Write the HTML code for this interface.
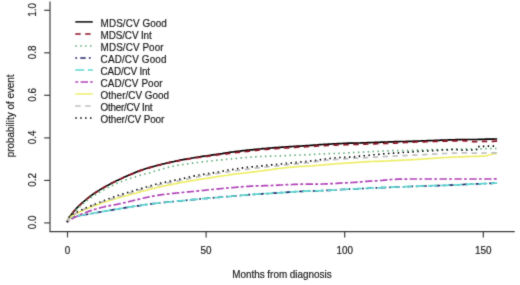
<!DOCTYPE html>
<html><head><meta charset="utf-8"><style>
html,body{margin:0;padding:0;background:#fff;}
svg{display:block;}
text{font-family:"Liberation Sans",sans-serif;font-size:9.9px;fill:#1a1a1a;stroke:#1a1a1a;stroke-width:0.18px;}
</style></head><body>
<svg width="520" height="285" viewBox="0 0 520 285">
<defs><filter id="soft" x="0" y="0" width="520" height="285" filterUnits="userSpaceOnUse"><feConvolveMatrix order="3" kernelMatrix="0.02 0.08 0.02 0.08 0.6 0.08 0.02 0.08 0.02" divisor="1" edgeMode="duplicate"/></filter></defs>
<rect width="520" height="285" fill="#fff"/>
<g filter="url(#soft)">
<path d="M50.0 1.6 V231.6 H514.7" fill="none" stroke="#3a3a3a" stroke-width="1.15"/>
<line x1="44.2" y1="222.9" x2="50" y2="222.9" stroke="#3a3a3a" stroke-width="1.15"/>
<text transform="translate(36.20 222.40) rotate(-90) scale(1 1.04)" text-anchor="middle">0.0</text>
<line x1="44.2" y1="180.4" x2="50" y2="180.4" stroke="#3a3a3a" stroke-width="1.15"/>
<text transform="translate(36.20 179.88) rotate(-90) scale(1 1.04)" text-anchor="middle">0.2</text>
<line x1="44.2" y1="137.9" x2="50" y2="137.9" stroke="#3a3a3a" stroke-width="1.15"/>
<text transform="translate(36.20 137.36) rotate(-90) scale(1 1.04)" text-anchor="middle">0.4</text>
<line x1="44.2" y1="95.3" x2="50" y2="95.3" stroke="#3a3a3a" stroke-width="1.15"/>
<text transform="translate(36.20 94.84) rotate(-90) scale(1 1.04)" text-anchor="middle">0.6</text>
<line x1="44.2" y1="52.8" x2="50" y2="52.8" stroke="#3a3a3a" stroke-width="1.15"/>
<text transform="translate(36.20 52.32) rotate(-90) scale(1 1.04)" text-anchor="middle">0.8</text>
<line x1="44.2" y1="10.3" x2="50" y2="10.3" stroke="#3a3a3a" stroke-width="1.15"/>
<text transform="translate(36.20 9.80) rotate(-90) scale(1 1.04)" text-anchor="middle">1.0</text>
<line x1="67.5" y1="231.6" x2="67.5" y2="237.4" stroke="#3a3a3a" stroke-width="1.15"/>
<text transform="translate(67.50 253.70) scale(1 1.01)" text-anchor="middle">0</text>
<line x1="206.1" y1="231.6" x2="206.1" y2="237.4" stroke="#3a3a3a" stroke-width="1.15"/>
<text transform="translate(206.10 253.70) scale(1 1.01)" text-anchor="middle">50</text>
<line x1="344.7" y1="231.6" x2="344.7" y2="237.4" stroke="#3a3a3a" stroke-width="1.15"/>
<text transform="translate(344.70 253.70) scale(1 1.01)" text-anchor="middle">100</text>
<line x1="483.3" y1="231.6" x2="483.3" y2="237.4" stroke="#3a3a3a" stroke-width="1.15"/>
<text transform="translate(483.30 253.70) scale(1 1.01)" text-anchor="middle">150</text>
<text transform="translate(281.90 277.60) scale(1 1.12)" text-anchor="middle">Months from diagnosis</text>
<text transform="translate(13.60 115.90) rotate(-90) scale(1 1.04)" text-anchor="middle">probability of event</text>
<path d="M67.2 222.2 L67.5 221.4 L67.7 220.7 L68.0 220.1 L68.2 219.6 L68.5 219.1 L68.7 218.6 L69.0 218.1 L69.2 217.7 L69.5 217.3 L69.7 216.9 L70.0 216.5 L70.2 216.1 L70.5 215.7 L70.7 215.4 L71.0 215.0 L71.2 214.7 L71.5 214.3 L71.7 214.0 L72.0 213.7 L72.2 213.4 L72.5 213.1 L72.7 212.8 L73.0 212.5 L73.2 212.2 L73.5 211.9 L73.7 211.6 L74.0 211.3 L74.2 211.0 L74.5 210.7 L74.7 210.4 L75.0 210.1 L75.0 210.1 L76.5 208.4 L78.0 206.9 L79.5 205.4 L81.0 204.0 L82.5 202.6 L84.0 201.3 L85.5 200.1 L87.0 198.8 L88.5 197.6 L90.0 196.5 L91.5 195.4 L93.0 194.3 L94.5 193.3 L96.0 192.3 L97.5 191.3 L99.0 190.4 L100.5 189.4 L102.0 188.6 L103.5 187.7 L105.0 186.8 L106.5 186.0 L108.0 185.2 L109.5 184.4 L111.0 183.6 L112.5 182.8 L114.0 182.1 L115.5 181.3 L117.0 180.6 L118.5 179.9 L120.0 179.2 L121.5 178.5 L123.0 177.8 L124.5 177.1 L126.0 176.4 L127.5 175.8 L129.0 175.1 L130.5 174.5 L132.0 173.9 L133.5 173.2 L135.0 172.6 L136.5 172.0 L138.0 171.4 L139.5 170.9 L141.0 170.3 L142.5 169.8 L144.0 169.3 L145.5 168.8 L147.0 168.3 L148.5 167.9 L150.0 167.4 L151.5 167.0 L153.0 166.6 L154.5 166.2 L156.0 165.8 L157.5 165.4 L159.0 165.0 L160.5 164.6 L162.0 164.2 L163.5 163.8 L165.0 163.5 L166.5 163.1 L168.0 162.8 L169.5 162.4 L171.0 162.1 L172.5 161.8 L174.0 161.5 L175.5 161.1 L177.0 160.8 L178.5 160.5 L180.0 160.2 L181.5 159.9 L183.0 159.7 L184.5 159.4 L186.0 159.1 L187.5 158.8 L189.0 158.5 L190.5 158.3 L192.0 158.0 L193.5 157.8 L195.0 157.5 L196.5 157.3 L198.0 157.1 L199.5 156.8 L201.0 156.6 L202.5 156.4 L204.0 156.2 L205.5 156.0 L207.0 155.8 L208.5 155.5 L210.0 155.3 L211.5 155.1 L213.0 154.9 L214.5 154.7 L216.0 154.5 L217.5 154.2 L219.0 154.0 L220.5 153.8 L222.0 153.6 L223.5 153.3 L225.0 153.1 L226.5 152.9 L228.0 152.7 L229.5 152.4 L231.0 152.2 L232.5 152.0 L234.0 151.8 L235.5 151.6 L237.0 151.4 L238.5 151.3 L240.0 151.1 L241.5 150.9 L243.0 150.7 L244.5 150.6 L246.0 150.4 L247.5 150.2 L249.0 150.1 L250.5 149.9 L252.0 149.8 L253.5 149.6 L255.0 149.4 L256.5 149.3 L258.0 149.1 L259.5 149.0 L261.0 148.9 L262.5 148.7 L264.0 148.6 L265.5 148.5 L267.0 148.3 L268.5 148.2 L270.0 148.1 L271.5 148.0 L273.0 147.8 L274.5 147.7 L276.0 147.6 L277.5 147.5 L279.0 147.4 L280.5 147.3 L282.0 147.2 L283.5 147.1 L285.0 147.0 L286.5 146.9 L288.0 146.8 L289.5 146.7 L291.0 146.6 L292.5 146.5 L294.0 146.4 L295.5 146.3 L297.0 146.2 L298.5 146.2 L300.0 146.1 L301.5 146.0 L303.0 145.9 L304.5 145.8 L306.0 145.7 L307.5 145.6 L309.0 145.5 L310.5 145.4 L312.0 145.3 L313.5 145.2 L315.0 145.1 L316.5 145.0 L318.0 144.8 L319.5 144.7 L321.0 144.6 L322.5 144.5 L324.0 144.4 L325.5 144.3 L327.0 144.3 L328.5 144.2 L330.0 144.1 L331.5 144.0 L333.0 143.9 L334.5 143.9 L336.0 143.8 L337.5 143.7 L339.0 143.6 L340.5 143.6 L342.0 143.5 L343.5 143.4 L345.0 143.4 L346.5 143.3 L348.0 143.2 L349.5 143.2 L351.0 143.1 L352.5 143.1 L354.0 143.1 L355.5 143.1 L357.0 143.1 L358.5 143.0 L360.0 143.0 L361.5 142.9 L363.0 142.9 L364.5 142.8 L366.0 142.8 L367.5 142.7 L369.0 142.6 L370.5 142.6 L372.0 142.5 L373.5 142.5 L375.0 142.4 L376.5 142.4 L378.0 142.3 L379.5 142.3 L381.0 142.2 L382.5 142.1 L384.0 142.1 L385.5 142.0 L387.0 142.0 L388.5 141.9 L390.0 141.9 L391.5 141.8 L393.0 141.8 L394.5 141.7 L396.0 141.7 L397.5 141.6 L399.0 141.6 L400.5 141.5 L402.0 141.5 L403.5 141.5 L405.0 141.5 L406.5 141.4 L408.0 141.4 L409.5 141.4 L411.0 141.3 L412.5 141.3 L414.0 141.2 L415.5 141.2 L417.0 141.1 L418.5 141.1 L420.0 141.0 L421.5 140.9 L423.0 140.9 L424.5 140.8 L426.0 140.8 L427.5 140.7 L429.0 140.7 L430.5 140.6 L432.0 140.5 L433.5 140.5 L435.0 140.4 L436.5 140.4 L438.0 140.3 L439.5 140.3 L441.0 140.2 L442.5 140.1 L444.0 140.1 L445.5 140.0 L447.0 140.0 L448.5 139.9 L450.0 139.9 L451.5 139.8 L453.0 139.8 L454.5 139.8 L456.0 139.7 L457.5 139.7 L459.0 139.6 L460.5 139.6 L462.0 139.5 L463.5 139.5 L465.0 139.5 L466.5 139.5 L468.0 139.5 L469.5 139.5 L471.0 139.5 L472.5 139.5 L474.0 139.5 L475.5 139.5 L477.0 139.5 L478.5 139.4 L480.0 139.4 L481.5 139.3 L483.0 139.3 L484.5 139.3 L486.0 139.2 L487.5 139.2 L489.0 139.2 L490.5 139.1 L492.0 139.1 L493.5 139.1 L495.0 139.0 L496.5 139.0 L497.2 139.0" fill="none" stroke="#000000" stroke-width="1.7" stroke-linejoin="round"/>
<path d="M67.2 222.2 L67.5 221.4 L67.7 220.7 L68.0 220.1 L68.2 219.5 L68.5 219.0 L68.7 218.5 L69.0 218.1 L69.2 217.6 L69.5 217.2 L69.7 216.8 L70.0 216.4 L70.2 216.0 L70.5 215.7 L70.7 215.3 L71.0 215.0 L71.2 214.6 L71.5 214.3 L71.7 214.0 L72.0 213.6 L72.2 213.3 L72.5 213.0 L72.7 212.7 L73.0 212.4 L73.2 212.1 L73.5 211.8 L73.7 211.5 L74.0 211.2 L74.2 210.9 L74.5 210.7 L74.7 210.4 L75.0 210.1 L75.0 210.0 L76.5 208.4 L78.0 206.9 L79.5 205.4 L81.0 204.0 L82.5 202.7 L84.0 201.4 L85.5 200.1 L87.0 198.9 L88.5 197.8 L90.0 196.6 L91.5 195.5 L93.0 194.5 L94.5 193.4 L96.0 192.4 L97.5 191.5 L99.0 190.5 L100.5 189.6 L102.0 188.7 L103.5 187.8 L105.0 186.9 L106.5 186.1 L108.0 185.3 L109.5 184.5 L111.0 183.7 L112.5 182.9 L114.0 182.1 L115.5 181.4 L117.0 180.6 L118.5 179.9 L120.0 179.2 L121.5 178.5 L123.0 177.8 L124.5 177.1 L126.0 176.4 L127.5 175.8 L129.0 175.1 L130.5 174.5 L132.0 173.9 L133.5 173.2 L135.0 172.6 L136.5 172.1 L138.0 171.5 L139.5 170.9 L141.0 170.4 L142.5 169.9 L144.0 169.4 L145.5 168.9 L147.0 168.5 L148.5 168.0 L150.0 167.6 L151.5 167.2 L153.0 166.7 L154.5 166.3 L156.0 165.9 L157.5 165.5 L159.0 165.2 L160.5 164.8 L162.0 164.4 L163.5 164.0 L165.0 163.7 L166.5 163.3 L168.0 163.0 L169.5 162.7 L171.0 162.3 L172.5 162.0 L174.0 161.7 L175.5 161.4 L177.0 161.1 L178.5 160.8 L180.0 160.5 L181.5 160.2 L183.0 159.9 L184.5 159.7 L186.0 159.4 L187.5 159.2 L189.0 158.9 L190.5 158.7 L192.0 158.4 L193.5 158.2 L195.0 157.9 L196.5 157.7 L198.0 157.5 L199.5 157.3 L201.0 157.1 L202.5 156.9 L204.0 156.7 L205.5 156.5 L207.0 156.3 L208.5 156.1 L210.0 155.9 L211.5 155.7 L213.0 155.5 L214.5 155.3 L216.0 155.1 L217.5 154.9 L219.0 154.7 L220.5 154.5 L222.0 154.3 L223.5 154.1 L225.0 153.9 L226.5 153.8 L228.0 153.6 L229.5 153.4 L231.0 153.2 L232.5 153.0 L234.0 152.8 L235.5 152.6 L237.0 152.5 L238.5 152.3 L240.0 152.1 L241.5 152.0 L243.0 151.8 L244.5 151.7 L246.0 151.5 L247.5 151.4 L249.0 151.2 L250.5 151.0 L252.0 150.9 L253.5 150.7 L255.0 150.5 L256.5 150.3 L258.0 150.1 L259.5 149.9 L261.0 149.8 L262.5 149.6 L264.0 149.5 L265.5 149.4 L267.0 149.3 L268.5 149.2 L270.0 149.0 L271.5 148.9 L273.0 148.8 L274.5 148.7 L276.0 148.6 L277.5 148.5 L279.0 148.4 L280.5 148.3 L282.0 148.2 L283.5 148.1 L285.0 148.0 L286.5 147.9 L288.0 147.8 L289.5 147.7 L291.0 147.6 L292.5 147.5 L294.0 147.4 L295.5 147.3 L297.0 147.2 L298.5 147.1 L300.0 147.1 L301.5 147.0 L303.0 146.9 L304.5 146.8 L306.0 146.7 L307.5 146.6 L309.0 146.5 L310.5 146.5 L312.0 146.4 L313.5 146.3 L315.0 146.2 L316.5 146.1 L318.0 146.0 L319.5 145.9 L321.0 145.8 L322.5 145.8 L324.0 145.7 L325.5 145.6 L327.0 145.5 L328.5 145.5 L330.0 145.4 L331.5 145.3 L333.0 145.2 L334.5 145.2 L336.0 145.1 L337.5 145.0 L339.0 145.0 L340.5 144.9 L342.0 144.8 L343.5 144.8 L345.0 144.7 L346.5 144.7 L348.0 144.6 L349.5 144.5 L351.0 144.5 L352.5 144.5 L354.0 144.4 L355.5 144.4 L357.0 144.4 L358.5 144.3 L360.0 144.3 L361.5 144.2 L363.0 144.2 L364.5 144.1 L366.0 144.1 L367.5 144.0 L369.0 144.0 L370.5 143.9 L372.0 143.9 L373.5 143.8 L375.0 143.8 L376.5 143.7 L378.0 143.7 L379.5 143.6 L381.0 143.6 L382.5 143.5 L384.0 143.5 L385.5 143.4 L387.0 143.4 L388.5 143.3 L390.0 143.3 L391.5 143.2 L393.0 143.2 L394.5 143.1 L396.0 143.1 L397.5 143.0 L399.0 143.0 L400.5 142.9 L402.0 142.8 L403.5 142.7 L405.0 142.5 L406.5 142.4 L408.0 142.3 L409.5 142.2 L411.0 142.2 L412.5 142.1 L414.0 142.1 L415.5 142.0 L417.0 142.0 L418.5 141.9 L420.0 141.9 L421.5 141.9 L423.0 141.8 L424.5 141.8 L426.0 141.7 L427.5 141.7 L429.0 141.6 L430.5 141.6 L432.0 141.5 L433.5 141.5 L435.0 141.4 L436.5 141.4 L438.0 141.3 L439.5 141.3 L441.0 141.2 L442.5 141.2 L444.0 141.2 L445.5 141.1 L447.0 141.1 L448.5 141.0 L450.0 141.0 L451.5 141.0 L453.0 140.9 L454.5 140.9 L456.0 140.8 L457.5 140.8 L459.0 140.8 L460.5 140.7 L462.0 140.7 L463.5 140.7 L465.0 140.8 L466.5 140.9 L468.0 141.1 L469.5 141.4 L471.0 141.5 L472.5 141.6 L474.0 141.6 L475.5 141.6 L477.0 141.6 L478.5 141.6 L480.0 141.5 L481.5 141.5 L483.0 141.5 L484.5 141.4 L486.0 141.4 L487.5 141.4 L489.0 141.4 L490.5 141.3 L492.0 141.3 L493.5 141.3 L495.0 141.2 L496.5 141.2 L497.2 141.2" fill="none" stroke="#8a1528" stroke-width="1.7" stroke-linejoin="round" stroke-dasharray="5.4 4.5"/>
<path d="M67.2 222.2 L67.5 221.5 L67.7 220.9 L68.0 220.4 L68.2 219.9 L68.5 219.4 L68.7 219.0 L69.0 218.6 L69.2 218.2 L69.5 217.8 L69.7 217.4 L70.0 217.1 L70.2 216.7 L70.5 216.4 L70.7 216.1 L71.0 215.7 L71.2 215.4 L71.5 215.1 L71.7 214.8 L72.0 214.5 L72.2 214.2 L72.5 214.0 L72.7 213.7 L73.0 213.4 L73.2 213.1 L73.5 212.8 L73.7 212.6 L74.0 212.3 L74.2 212.0 L74.5 211.8 L74.7 211.5 L75.0 211.2 L75.0 211.2 L76.5 209.7 L78.0 208.2 L79.5 206.8 L81.0 205.4 L82.5 204.1 L84.0 202.9 L85.5 201.7 L87.0 200.5 L88.5 199.4 L90.0 198.3 L91.5 197.3 L93.0 196.3 L94.5 195.3 L96.0 194.3 L97.5 193.4 L99.0 192.5 L100.5 191.6 L102.0 190.8 L103.5 190.0 L105.0 189.1 L106.5 188.3 L108.0 187.6 L109.5 186.8 L111.0 186.1 L112.5 185.4 L114.0 184.7 L115.5 184.0 L117.0 183.3 L118.5 182.7 L120.0 182.1 L121.5 181.5 L123.0 180.9 L124.5 180.3 L126.0 179.8 L127.5 179.3 L129.0 178.8 L130.5 178.3 L132.0 177.8 L133.5 177.3 L135.0 176.9 L136.5 176.4 L138.0 176.0 L139.5 175.5 L141.0 175.1 L142.5 174.7 L144.0 174.3 L145.5 173.8 L147.0 173.4 L148.5 173.0 L150.0 172.6 L151.5 172.1 L153.0 171.7 L154.5 171.2 L156.0 170.8 L157.5 170.3 L159.0 169.9 L160.5 169.4 L162.0 169.0 L163.5 168.6 L165.0 168.2 L166.5 167.8 L168.0 167.4 L169.5 167.0 L171.0 166.7 L172.5 166.3 L174.0 166.0 L175.5 165.7 L177.0 165.5 L178.5 165.2 L180.0 165.0 L181.5 164.7 L183.0 164.5 L184.5 164.3 L186.0 164.0 L187.5 163.8 L189.0 163.6 L190.5 163.4 L192.0 163.2 L193.5 163.1 L195.0 162.9 L196.5 162.7 L198.0 162.5 L199.5 162.3 L201.0 162.1 L202.5 161.9 L204.0 161.7 L205.5 161.6 L207.0 161.4 L208.5 161.2 L210.0 161.1 L211.5 160.9 L213.0 160.7 L214.5 160.6 L216.0 160.4 L217.5 160.2 L219.0 160.1 L220.5 159.9 L222.0 159.8 L223.5 159.6 L225.0 159.5 L226.5 159.3 L228.0 159.2 L229.5 159.0 L231.0 158.9 L232.5 158.7 L234.0 158.6 L235.5 158.4 L237.0 158.3 L238.5 158.1 L240.0 158.0 L241.5 157.9 L243.0 157.7 L244.5 157.6 L246.0 157.5 L247.5 157.4 L249.0 157.2 L250.5 157.1 L252.0 157.0 L253.5 156.9 L255.0 156.8 L256.5 156.7 L258.0 156.6 L259.5 156.5 L261.0 156.5 L262.5 156.4 L264.0 156.3 L265.5 156.3 L267.0 156.3 L268.5 156.2 L270.0 156.2 L271.5 156.1 L273.0 156.1 L274.5 156.0 L276.0 156.0 L277.5 155.9 L279.0 155.8 L280.5 155.8 L282.0 155.7 L283.5 155.7 L285.0 155.6 L286.5 155.5 L288.0 155.5 L289.5 155.4 L291.0 155.4 L292.5 155.3 L294.0 155.3 L295.5 155.2 L297.0 155.1 L298.5 155.1 L300.0 155.0 L301.5 155.0 L303.0 154.9 L304.5 154.8 L306.0 154.8 L307.5 154.7 L309.0 154.6 L310.5 154.6 L312.0 154.5 L313.5 154.4 L315.0 154.3 L316.5 154.2 L318.0 154.1 L319.5 154.0 L321.0 153.9 L322.5 153.9 L324.0 153.8 L325.5 153.8 L327.0 153.7 L328.5 153.7 L330.0 153.6 L331.5 153.6 L333.0 153.5 L334.5 153.5 L336.0 153.4 L337.5 153.4 L339.0 153.3 L340.5 153.3 L342.0 153.2 L343.5 153.1 L345.0 153.0 L346.5 152.9 L348.0 152.9 L349.5 152.8 L351.0 152.7 L352.5 152.6 L354.0 152.5 L355.5 152.5 L357.0 152.4 L358.5 152.3 L360.0 152.3 L361.5 152.2 L363.0 152.1 L364.5 152.1 L366.0 152.0 L367.5 151.9 L369.0 151.8 L370.5 151.7 L372.0 151.6 L373.5 151.5 L375.0 151.4 L376.5 151.4 L378.0 151.3 L379.5 151.2 L381.0 151.1 L382.5 151.1 L384.0 151.0 L385.5 151.0 L387.0 150.9 L388.5 150.9 L390.0 150.8 L391.5 150.8 L393.0 150.7 L394.5 150.7 L396.0 150.6 L397.5 150.6 L399.0 150.6 L400.5 150.5 L402.0 150.5 L403.5 150.5 L405.0 150.5 L406.5 150.5 L408.0 150.4 L409.5 150.4 L411.0 150.4 L412.5 150.3 L414.0 150.3 L415.5 150.3 L417.0 150.2 L418.5 150.2 L420.0 150.1 L421.5 150.1 L423.0 150.0 L424.5 150.0 L426.0 149.9 L427.5 149.9 L429.0 149.8 L430.5 149.8 L432.0 149.7 L433.5 149.7 L435.0 149.7 L436.5 149.6 L438.0 149.6 L439.5 149.5 L441.0 149.5 L442.5 149.4 L444.0 149.4 L445.5 149.4 L447.0 149.3 L448.5 149.3 L450.0 149.2 L451.5 149.2 L453.0 149.2 L454.5 149.1 L456.0 149.1 L457.5 149.1 L459.0 149.0 L460.5 149.0 L462.0 149.0 L463.5 148.9 L465.0 148.9 L466.5 148.9 L468.0 149.0 L469.5 149.0 L471.0 149.0 L472.5 149.0 L474.0 149.0 L475.5 149.0 L477.0 149.0 L478.5 148.9 L480.0 148.9 L481.5 148.9 L483.0 148.8 L484.5 148.8 L486.0 148.7 L487.5 148.7 L489.0 148.7 L490.5 148.6 L492.0 148.6 L493.5 148.6 L495.0 148.5 L496.5 148.5 L497.2 148.5" fill="none" stroke="#62ad7c" stroke-width="1.7" stroke-linejoin="round" stroke-dasharray="1.5 3.4"/>
<path d="M67.2 222.2 L67.5 221.5 L67.7 220.9 L68.0 220.4 L68.2 219.9 L68.5 219.5 L68.7 219.2 L69.0 218.9 L69.2 218.7 L69.5 218.4 L69.7 218.3 L70.0 218.1 L70.2 217.9 L70.5 217.8 L70.7 217.7 L71.0 217.6 L71.2 217.5 L71.5 217.4 L71.7 217.3 L72.0 217.2 L72.2 217.1 L72.5 217.1 L72.7 217.0 L73.0 216.9 L73.2 216.9 L73.5 216.8 L73.7 216.8 L74.0 216.7 L74.2 216.6 L74.5 216.6 L74.7 216.5 L75.0 216.5 L75.0 216.5 L76.5 216.2 L78.0 215.9 L79.5 215.6 L81.0 215.3 L82.5 215.1 L84.0 214.8 L85.5 214.5 L87.0 214.3 L88.5 214.0 L90.0 213.8 L91.5 213.5 L93.0 213.3 L94.5 213.0 L96.0 212.7 L97.5 212.5 L99.0 212.2 L100.5 212.0 L102.0 211.7 L103.5 211.4 L105.0 211.2 L106.5 210.9 L108.0 210.7 L109.5 210.4 L111.0 210.1 L112.5 209.9 L114.0 209.6 L115.5 209.3 L117.0 209.1 L118.5 208.8 L120.0 208.6 L121.5 208.3 L123.0 208.1 L124.5 207.8 L126.0 207.6 L127.5 207.4 L129.0 207.1 L130.5 206.9 L132.0 206.7 L133.5 206.4 L135.0 206.2 L136.5 206.0 L138.0 205.8 L139.5 205.6 L141.0 205.3 L142.5 205.1 L144.0 204.9 L145.5 204.7 L147.0 204.5 L148.5 204.3 L150.0 204.1 L151.5 203.9 L153.0 203.7 L154.5 203.5 L156.0 203.3 L157.5 203.1 L159.0 203.0 L160.5 202.8 L162.0 202.6 L163.5 202.5 L165.0 202.3 L166.5 202.2 L168.0 202.0 L169.5 201.9 L171.0 201.8 L172.5 201.6 L174.0 201.5 L175.5 201.3 L177.0 201.2 L178.5 201.1 L180.0 200.9 L181.5 200.8 L183.0 200.6 L184.5 200.5 L186.0 200.3 L187.5 200.2 L189.0 200.0 L190.5 199.9 L192.0 199.7 L193.5 199.6 L195.0 199.5 L196.5 199.3 L198.0 199.2 L199.5 199.0 L201.0 198.9 L202.5 198.7 L204.0 198.6 L205.5 198.5 L207.0 198.3 L208.5 198.2 L210.0 198.1 L211.5 198.0 L213.0 197.8 L214.5 197.7 L216.0 197.6 L217.5 197.5 L219.0 197.3 L220.5 197.2 L222.0 197.1 L223.5 197.0 L225.0 196.8 L226.5 196.7 L228.0 196.6 L229.5 196.5 L231.0 196.3 L232.5 196.2 L234.0 196.0 L235.5 195.9 L237.0 195.7 L238.5 195.6 L240.0 195.5 L241.5 195.3 L243.0 195.2 L244.5 195.1 L246.0 194.9 L247.5 194.8 L249.0 194.7 L250.5 194.6 L252.0 194.5 L253.5 194.4 L255.0 194.3 L256.5 194.2 L258.0 194.1 L259.5 194.0 L261.0 193.9 L262.5 193.8 L264.0 193.7 L265.5 193.6 L267.0 193.6 L268.5 193.5 L270.0 193.4 L271.5 193.3 L273.0 193.2 L274.5 193.1 L276.0 193.0 L277.5 192.9 L279.0 192.8 L280.5 192.7 L282.0 192.6 L283.5 192.5 L285.0 192.4 L286.5 192.3 L288.0 192.2 L289.5 192.1 L291.0 192.0 L292.5 191.9 L294.0 191.8 L295.5 191.7 L297.0 191.6 L298.5 191.5 L300.0 191.5 L301.5 191.4 L303.0 191.3 L304.5 191.2 L306.0 191.2 L307.5 191.1 L309.0 191.1 L310.5 191.0 L312.0 191.0 L313.5 191.0 L315.0 190.9 L316.5 190.9 L318.0 190.8 L319.5 190.8 L321.0 190.7 L322.5 190.7 L324.0 190.6 L325.5 190.5 L327.0 190.4 L328.5 190.4 L330.0 190.3 L331.5 190.2 L333.0 190.1 L334.5 190.0 L336.0 189.9 L337.5 189.8 L339.0 189.7 L340.5 189.6 L342.0 189.5 L343.5 189.4 L345.0 189.3 L346.5 189.3 L348.0 189.2 L349.5 189.1 L351.0 189.0 L352.5 189.0 L354.0 188.9 L355.5 188.8 L357.0 188.8 L358.5 188.7 L360.0 188.6 L361.5 188.6 L363.0 188.5 L364.5 188.4 L366.0 188.4 L367.5 188.3 L369.0 188.2 L370.5 188.2 L372.0 188.1 L373.5 188.0 L375.0 188.0 L376.5 187.9 L378.0 187.8 L379.5 187.8 L381.0 187.7 L382.5 187.6 L384.0 187.6 L385.5 187.5 L387.0 187.4 L388.5 187.4 L390.0 187.3 L391.5 187.2 L393.0 187.2 L394.5 187.1 L396.0 187.1 L397.5 187.0 L399.0 186.9 L400.5 186.9 L402.0 186.8 L403.5 186.8 L405.0 186.7 L406.5 186.6 L408.0 186.6 L409.5 186.5 L411.0 186.5 L412.5 186.4 L414.0 186.4 L415.5 186.3 L417.0 186.3 L418.5 186.2 L420.0 186.2 L421.5 186.1 L423.0 186.1 L424.5 186.0 L426.0 186.0 L427.5 185.9 L429.0 185.8 L430.5 185.8 L432.0 185.7 L433.5 185.7 L435.0 185.7 L436.5 185.6 L438.0 185.6 L439.5 185.5 L441.0 185.5 L442.5 185.4 L444.0 185.4 L445.5 185.3 L447.0 185.3 L448.5 185.2 L450.0 185.2 L451.5 185.1 L453.0 185.0 L454.5 185.0 L456.0 184.9 L457.5 184.8 L459.0 184.8 L460.5 184.7 L462.0 184.6 L463.5 184.5 L465.0 184.4 L466.5 184.4 L468.0 184.3 L469.5 184.2 L471.0 184.2 L472.5 184.1 L474.0 184.0 L475.5 184.0 L477.0 183.9 L478.5 183.8 L480.0 183.8 L481.5 183.7 L483.0 183.7 L484.5 183.6 L486.0 183.5 L487.5 183.5 L489.0 183.4 L490.5 183.3 L492.0 183.3 L493.5 183.2 L495.0 183.2 L496.5 183.1 L497.2 183.1" fill="none" stroke="#22266e" stroke-width="1.7" stroke-linejoin="round" stroke-dasharray="1.8 3.2 5.4 3.2"/>
<path d="M67.2 222.2 L67.5 221.5 L67.7 220.9 L68.0 220.4 L68.2 219.9 L68.5 219.5 L68.7 219.2 L69.0 218.9 L69.2 218.7 L69.5 218.4 L69.7 218.3 L70.0 218.1 L70.2 217.9 L70.5 217.8 L70.7 217.7 L71.0 217.6 L71.2 217.5 L71.5 217.4 L71.7 217.3 L72.0 217.2 L72.2 217.1 L72.5 217.1 L72.7 217.0 L73.0 216.9 L73.2 216.9 L73.5 216.8 L73.7 216.8 L74.0 216.7 L74.2 216.6 L74.5 216.6 L74.7 216.5 L75.0 216.5 L75.0 216.5 L76.5 216.2 L78.0 215.9 L79.5 215.6 L81.0 215.3 L82.5 215.1 L84.0 214.8 L85.5 214.5 L87.0 214.3 L88.5 214.0 L90.0 213.8 L91.5 213.5 L93.0 213.3 L94.5 213.0 L96.0 212.7 L97.5 212.5 L99.0 212.2 L100.5 212.0 L102.0 211.7 L103.5 211.4 L105.0 211.2 L106.5 210.9 L108.0 210.7 L109.5 210.4 L111.0 210.1 L112.5 209.9 L114.0 209.6 L115.5 209.3 L117.0 209.1 L118.5 208.8 L120.0 208.6 L121.5 208.3 L123.0 208.1 L124.5 207.8 L126.0 207.6 L127.5 207.4 L129.0 207.1 L130.5 206.9 L132.0 206.7 L133.5 206.4 L135.0 206.2 L136.5 206.0 L138.0 205.8 L139.5 205.6 L141.0 205.3 L142.5 205.1 L144.0 204.9 L145.5 204.7 L147.0 204.5 L148.5 204.3 L150.0 204.1 L151.5 203.9 L153.0 203.7 L154.5 203.5 L156.0 203.3 L157.5 203.1 L159.0 203.0 L160.5 202.8 L162.0 202.6 L163.5 202.5 L165.0 202.3 L166.5 202.2 L168.0 202.0 L169.5 201.9 L171.0 201.8 L172.5 201.6 L174.0 201.5 L175.5 201.3 L177.0 201.2 L178.5 201.1 L180.0 200.9 L181.5 200.8 L183.0 200.6 L184.5 200.5 L186.0 200.3 L187.5 200.2 L189.0 200.0 L190.5 199.9 L192.0 199.7 L193.5 199.6 L195.0 199.5 L196.5 199.3 L198.0 199.2 L199.5 199.0 L201.0 198.9 L202.5 198.7 L204.0 198.6 L205.5 198.5 L207.0 198.3 L208.5 198.2 L210.0 198.1 L211.5 198.0 L213.0 197.8 L214.5 197.7 L216.0 197.6 L217.5 197.5 L219.0 197.3 L220.5 197.2 L222.0 197.1 L223.5 197.0 L225.0 196.8 L226.5 196.7 L228.0 196.6 L229.5 196.5 L231.0 196.3 L232.5 196.2 L234.0 196.0 L235.5 195.9 L237.0 195.7 L238.5 195.6 L240.0 195.5 L241.5 195.3 L243.0 195.2 L244.5 195.1 L246.0 194.9 L247.5 194.8 L249.0 194.7 L250.5 194.6 L252.0 194.5 L253.5 194.4 L255.0 194.3 L256.5 194.2 L258.0 194.1 L259.5 194.0 L261.0 193.9 L262.5 193.8 L264.0 193.7 L265.5 193.6 L267.0 193.6 L268.5 193.5 L270.0 193.4 L271.5 193.3 L273.0 193.2 L274.5 193.1 L276.0 193.0 L277.5 192.9 L279.0 192.8 L280.5 192.7 L282.0 192.6 L283.5 192.5 L285.0 192.4 L286.5 192.3 L288.0 192.2 L289.5 192.1 L291.0 192.0 L292.5 191.9 L294.0 191.8 L295.5 191.7 L297.0 191.6 L298.5 191.5 L300.0 191.5 L301.5 191.4 L303.0 191.3 L304.5 191.2 L306.0 191.2 L307.5 191.1 L309.0 191.1 L310.5 191.0 L312.0 191.0 L313.5 191.0 L315.0 190.9 L316.5 190.9 L318.0 190.8 L319.5 190.8 L321.0 190.7 L322.5 190.7 L324.0 190.6 L325.5 190.5 L327.0 190.4 L328.5 190.4 L330.0 190.3 L331.5 190.2 L333.0 190.1 L334.5 190.0 L336.0 189.9 L337.5 189.8 L339.0 189.7 L340.5 189.6 L342.0 189.5 L343.5 189.4 L345.0 189.3 L346.5 189.3 L348.0 189.2 L349.5 189.1 L351.0 189.0 L352.5 189.0 L354.0 188.9 L355.5 188.8 L357.0 188.8 L358.5 188.7 L360.0 188.6 L361.5 188.6 L363.0 188.5 L364.5 188.4 L366.0 188.4 L367.5 188.3 L369.0 188.2 L370.5 188.2 L372.0 188.1 L373.5 188.0 L375.0 188.0 L376.5 187.9 L378.0 187.8 L379.5 187.8 L381.0 187.7 L382.5 187.6 L384.0 187.6 L385.5 187.5 L387.0 187.4 L388.5 187.4 L390.0 187.3 L391.5 187.2 L393.0 187.2 L394.5 187.1 L396.0 187.1 L397.5 187.0 L399.0 186.9 L400.5 186.9 L402.0 186.8 L403.5 186.8 L405.0 186.7 L406.5 186.6 L408.0 186.6 L409.5 186.5 L411.0 186.5 L412.5 186.4 L414.0 186.4 L415.5 186.3 L417.0 186.3 L418.5 186.2 L420.0 186.2 L421.5 186.1 L423.0 186.1 L424.5 186.0 L426.0 186.0 L427.5 185.9 L429.0 185.8 L430.5 185.8 L432.0 185.7 L433.5 185.7 L435.0 185.7 L436.5 185.6 L438.0 185.6 L439.5 185.5 L441.0 185.5 L442.5 185.4 L444.0 185.4 L445.5 185.3 L447.0 185.3 L448.5 185.2 L450.0 185.2 L451.5 185.1 L453.0 185.0 L454.5 185.0 L456.0 184.9 L457.5 184.8 L459.0 184.8 L460.5 184.7 L462.0 184.6 L463.5 184.5 L465.0 184.4 L466.5 184.4 L468.0 184.3 L469.5 184.2 L471.0 184.2 L472.5 184.1 L474.0 184.0 L475.5 184.0 L477.0 183.9 L478.5 183.8 L480.0 183.8 L481.5 183.7 L483.0 183.7 L484.5 183.6 L486.0 183.5 L487.5 183.5 L489.0 183.4 L490.5 183.3 L492.0 183.3 L493.5 183.2 L495.0 183.2 L496.5 183.1 L497.2 183.1" fill="none" stroke="#5cd6d0" stroke-width="1.7" stroke-linejoin="round" stroke-dasharray="9.0 3.6"/>
<path d="M67.2 222.2 L67.5 221.9 L67.7 221.6 L68.0 221.4 L68.2 221.2 L68.5 221.0 L68.7 220.8 L69.0 220.6 L69.2 220.4 L69.5 220.3 L69.7 220.1 L70.0 219.9 L70.2 219.8 L70.5 219.6 L70.7 219.5 L71.0 219.3 L71.2 219.2 L71.5 219.0 L71.7 218.9 L72.0 218.8 L72.2 218.6 L72.5 218.5 L72.7 218.4 L73.0 218.2 L73.2 218.1 L73.5 218.0 L73.7 217.8 L74.0 217.7 L74.2 217.6 L74.5 217.4 L74.7 217.3 L75.0 217.2 L75.0 217.2 L76.5 216.4 L78.0 215.7 L79.5 215.0 L81.0 214.4 L82.5 213.8 L84.0 213.1 L85.5 212.6 L87.0 212.0 L88.5 211.4 L90.0 210.9 L91.5 210.4 L93.0 209.9 L94.5 209.4 L96.0 209.0 L97.5 208.5 L99.0 208.1 L100.5 207.7 L102.0 207.3 L103.5 207.0 L105.0 206.6 L106.5 206.3 L108.0 206.0 L109.5 205.7 L111.0 205.4 L112.5 205.1 L114.0 204.8 L115.5 204.6 L117.0 204.3 L118.5 204.0 L120.0 203.7 L121.5 203.4 L123.0 203.0 L124.5 202.7 L126.0 202.3 L127.5 202.0 L129.0 201.6 L130.5 201.2 L132.0 200.9 L133.5 200.5 L135.0 200.1 L136.5 199.8 L138.0 199.4 L139.5 199.1 L141.0 198.7 L142.5 198.3 L144.0 198.0 L145.5 197.7 L147.0 197.3 L148.5 197.0 L150.0 196.7 L151.5 196.4 L153.0 196.1 L154.5 195.9 L156.0 195.6 L157.5 195.4 L159.0 195.1 L160.5 194.9 L162.0 194.7 L163.5 194.5 L165.0 194.3 L166.5 194.1 L168.0 194.0 L169.5 193.8 L171.0 193.6 L172.5 193.4 L174.0 193.3 L175.5 193.1 L177.0 193.0 L178.5 192.8 L180.0 192.7 L181.5 192.5 L183.0 192.4 L184.5 192.2 L186.0 192.1 L187.5 191.9 L189.0 191.8 L190.5 191.7 L192.0 191.5 L193.5 191.4 L195.0 191.2 L196.5 191.1 L198.0 190.9 L199.5 190.8 L201.0 190.6 L202.5 190.5 L204.0 190.3 L205.5 190.2 L207.0 190.0 L208.5 189.8 L210.0 189.7 L211.5 189.5 L213.0 189.4 L214.5 189.2 L216.0 189.1 L217.5 188.9 L219.0 188.8 L220.5 188.7 L222.0 188.5 L223.5 188.4 L225.0 188.3 L226.5 188.1 L228.0 188.0 L229.5 187.9 L231.0 187.7 L232.5 187.6 L234.0 187.5 L235.5 187.3 L237.0 187.2 L238.5 187.1 L240.0 186.9 L241.5 186.8 L243.0 186.7 L244.5 186.6 L246.0 186.5 L247.5 186.4 L249.0 186.3 L250.5 186.2 L252.0 186.1 L253.5 186.0 L255.0 186.0 L256.5 185.9 L258.0 185.8 L259.5 185.8 L261.0 185.8 L262.5 185.8 L264.0 185.7 L265.5 185.7 L267.0 185.7 L268.5 185.6 L270.0 185.6 L271.5 185.5 L273.0 185.4 L274.5 185.4 L276.0 185.3 L277.5 185.2 L279.0 185.1 L280.5 185.0 L282.0 185.0 L283.5 184.9 L285.0 184.8 L286.5 184.7 L288.0 184.7 L289.5 184.6 L291.0 184.6 L292.5 184.5 L294.0 184.4 L295.5 184.4 L297.0 184.3 L298.5 184.3 L300.0 184.3 L301.5 184.2 L303.0 184.2 L304.5 184.2 L306.0 184.1 L307.5 184.1 L309.0 184.1 L310.5 184.1 L312.0 184.1 L313.5 184.1 L315.0 184.1 L316.5 184.1 L318.0 184.1 L319.5 184.1 L321.0 184.1 L322.5 184.0 L324.0 184.0 L325.5 183.9 L327.0 183.9 L328.5 183.8 L330.0 183.7 L331.5 183.6 L333.0 183.6 L334.5 183.5 L336.0 183.4 L337.5 183.3 L339.0 183.2 L340.5 183.1 L342.0 183.0 L343.5 182.9 L345.0 182.8 L346.5 182.8 L348.0 182.7 L349.5 182.6 L351.0 182.6 L352.5 182.5 L354.0 182.4 L355.5 182.3 L357.0 182.2 L358.5 182.1 L360.0 181.9 L361.5 181.8 L363.0 181.7 L364.5 181.5 L366.0 181.4 L367.5 181.3 L369.0 181.2 L370.5 181.1 L372.0 181.0 L373.5 180.9 L375.0 180.9 L376.5 180.8 L378.0 180.7 L379.5 180.6 L381.0 180.5 L382.5 180.4 L384.0 180.2 L385.5 180.1 L387.0 179.9 L388.5 179.8 L390.0 179.6 L391.5 179.5 L393.0 179.4 L394.5 179.3 L396.0 179.3 L397.5 179.2 L399.0 179.2 L400.5 179.1 L402.0 179.1 L403.5 179.1 L405.0 179.1 L406.5 179.1 L408.0 179.0 L409.5 179.0 L411.0 179.0 L412.5 179.0 L414.0 179.0 L415.5 179.0 L417.0 179.0 L418.5 179.0 L420.0 179.0 L421.5 179.0 L423.0 179.0 L424.5 179.0 L426.0 179.0 L427.5 179.0 L429.0 179.0 L430.5 179.0 L432.0 179.0 L433.5 179.0 L435.0 179.0 L436.5 179.0 L438.0 179.0 L439.5 179.0 L441.0 179.0 L442.5 179.0 L444.0 179.0 L445.5 179.0 L447.0 179.0 L448.5 179.0 L450.0 179.0 L451.5 179.0 L453.0 179.0 L454.5 179.0 L456.0 179.0 L457.5 179.0 L459.0 179.0 L460.5 179.0 L462.0 179.0 L463.5 179.0 L465.0 179.0 L466.5 179.0 L468.0 179.0 L469.5 179.0 L471.0 179.0 L472.5 179.0 L474.0 179.0 L475.5 179.0 L477.0 179.0 L478.5 179.0 L480.0 179.0 L481.5 179.0 L483.0 179.0 L484.5 179.0 L486.0 179.0 L487.5 179.0 L489.0 179.0 L490.5 179.0 L492.0 179.0 L493.5 179.0 L495.0 178.9 L496.5 178.9 L497.2 178.9" fill="none" stroke="#b044b8" stroke-width="1.7" stroke-linejoin="round" stroke-dasharray="2.9 2.4 7.4 2.2"/>
<path d="M67.2 222.2 L67.5 221.5 L67.7 220.9 L68.0 220.4 L68.2 219.9 L68.5 219.5 L68.7 219.1 L69.0 218.8 L69.2 218.5 L69.5 218.2 L69.7 217.9 L70.0 217.7 L70.2 217.5 L70.5 217.3 L70.7 217.1 L71.0 216.9 L71.2 216.7 L71.5 216.5 L71.7 216.3 L72.0 216.2 L72.2 216.0 L72.5 215.9 L72.7 215.7 L73.0 215.6 L73.2 215.4 L73.5 215.3 L73.7 215.1 L74.0 215.0 L74.2 214.9 L74.5 214.7 L74.7 214.6 L75.0 214.5 L75.0 214.4 L76.5 213.6 L78.0 212.9 L79.5 212.1 L81.0 211.4 L82.5 210.7 L84.0 210.0 L85.5 209.4 L87.0 208.7 L88.5 208.1 L90.0 207.5 L91.5 206.8 L93.0 206.3 L94.5 205.7 L96.0 205.1 L97.5 204.6 L99.0 204.0 L100.5 203.5 L102.0 203.0 L103.5 202.5 L105.0 202.0 L106.5 201.5 L108.0 201.0 L109.5 200.5 L111.0 200.1 L112.5 199.6 L114.0 199.2 L115.5 198.7 L117.0 198.3 L118.5 197.9 L120.0 197.5 L121.5 197.0 L123.0 196.6 L124.5 196.2 L126.0 195.8 L127.5 195.4 L129.0 195.0 L130.5 194.6 L132.0 194.2 L133.5 193.8 L135.0 193.4 L136.5 193.0 L138.0 192.5 L139.5 192.1 L141.0 191.7 L142.5 191.3 L144.0 190.9 L145.5 190.5 L147.0 190.1 L148.5 189.7 L150.0 189.3 L151.5 188.9 L153.0 188.5 L154.5 188.1 L156.0 187.8 L157.5 187.4 L159.0 187.1 L160.5 186.8 L162.0 186.4 L163.5 186.1 L165.0 185.8 L166.5 185.5 L168.0 185.2 L169.5 184.9 L171.0 184.6 L172.5 184.3 L174.0 184.0 L175.5 183.7 L177.0 183.4 L178.5 183.1 L180.0 182.8 L181.5 182.5 L183.0 182.2 L184.5 182.0 L186.0 181.7 L187.5 181.4 L189.0 181.1 L190.5 180.9 L192.0 180.6 L193.5 180.4 L195.0 180.1 L196.5 179.9 L198.0 179.6 L199.5 179.4 L201.0 179.2 L202.5 178.9 L204.0 178.7 L205.5 178.5 L207.0 178.3 L208.5 178.1 L210.0 177.8 L211.5 177.6 L213.0 177.4 L214.5 177.2 L216.0 176.9 L217.5 176.7 L219.0 176.4 L220.5 176.2 L222.0 176.0 L223.5 175.7 L225.0 175.5 L226.5 175.3 L228.0 175.0 L229.5 174.8 L231.0 174.6 L232.5 174.4 L234.0 174.2 L235.5 174.0 L237.0 173.8 L238.5 173.7 L240.0 173.5 L241.5 173.3 L243.0 173.2 L244.5 173.0 L246.0 172.8 L247.5 172.6 L249.0 172.5 L250.5 172.3 L252.0 172.1 L253.5 171.9 L255.0 171.7 L256.5 171.6 L258.0 171.4 L259.5 171.2 L261.0 171.0 L262.5 170.8 L264.0 170.6 L265.5 170.4 L267.0 170.2 L268.5 170.0 L270.0 169.8 L271.5 169.5 L273.0 169.3 L274.5 169.1 L276.0 168.9 L277.5 168.7 L279.0 168.5 L280.5 168.4 L282.0 168.2 L283.5 168.0 L285.0 167.8 L286.5 167.7 L288.0 167.5 L289.5 167.3 L291.0 167.2 L292.5 167.1 L294.0 166.9 L295.5 166.8 L297.0 166.7 L298.5 166.6 L300.0 166.5 L301.5 166.4 L303.0 166.4 L304.5 166.3 L306.0 166.2 L307.5 166.1 L309.0 166.1 L310.5 166.0 L312.0 165.9 L313.5 165.7 L315.0 165.6 L316.5 165.5 L318.0 165.4 L319.5 165.2 L321.0 165.1 L322.5 165.0 L324.0 164.8 L325.5 164.7 L327.0 164.6 L328.5 164.4 L330.0 164.3 L331.5 164.2 L333.0 164.1 L334.5 164.0 L336.0 163.8 L337.5 163.7 L339.0 163.6 L340.5 163.5 L342.0 163.4 L343.5 163.3 L345.0 163.2 L346.5 163.1 L348.0 163.0 L349.5 162.9 L351.0 162.8 L352.5 162.7 L354.0 162.6 L355.5 162.5 L357.0 162.4 L358.5 162.3 L360.0 162.2 L361.5 162.1 L363.0 162.0 L364.5 161.9 L366.0 161.8 L367.5 161.7 L369.0 161.6 L370.5 161.6 L372.0 161.5 L373.5 161.5 L375.0 161.4 L376.5 161.4 L378.0 161.3 L379.5 161.3 L381.0 161.2 L382.5 161.2 L384.0 161.1 L385.5 161.0 L387.0 161.0 L388.5 160.9 L390.0 160.8 L391.5 160.7 L393.0 160.6 L394.5 160.6 L396.0 160.5 L397.5 160.4 L399.0 160.3 L400.5 160.3 L402.0 160.2 L403.5 160.1 L405.0 160.0 L406.5 160.0 L408.0 159.9 L409.5 159.8 L411.0 159.7 L412.5 159.7 L414.0 159.6 L415.5 159.5 L417.0 159.4 L418.5 159.3 L420.0 159.2 L421.5 159.1 L423.0 159.0 L424.5 158.9 L426.0 158.8 L427.5 158.7 L429.0 158.6 L430.5 158.5 L432.0 158.4 L433.5 158.3 L435.0 158.2 L436.5 158.1 L438.0 158.0 L439.5 157.9 L441.0 157.8 L442.5 157.7 L444.0 157.6 L445.5 157.5 L447.0 157.5 L448.5 157.4 L450.0 157.3 L451.5 157.2 L453.0 157.2 L454.5 157.1 L456.0 157.0 L457.5 157.0 L459.0 156.9 L460.5 156.9 L462.0 156.8 L463.5 156.8 L465.0 156.7 L466.5 156.7 L468.0 156.6 L469.5 156.6 L471.0 156.5 L472.5 156.5 L474.0 156.4 L475.5 156.4 L477.0 156.3 L478.5 156.3 L480.0 156.2 L481.5 156.1 L483.0 156.1 L484.5 156.0 L488.0 155.3 L492.0 154.2 L494.0 153.6 L497.2 153.5" fill="none" stroke="#eeee6a" stroke-width="1.7" stroke-linejoin="round"/>
<path d="M67.2 222.2 L67.5 221.4 L67.7 220.7 L68.0 220.2 L68.2 219.7 L68.5 219.2 L68.7 218.8 L69.0 218.4 L69.2 218.1 L69.5 217.8 L69.7 217.5 L70.0 217.2 L70.2 217.0 L70.5 216.8 L70.7 216.5 L71.0 216.3 L71.2 216.1 L71.5 215.9 L71.7 215.8 L72.0 215.6 L72.2 215.4 L72.5 215.2 L72.7 215.1 L73.0 214.9 L73.2 214.8 L73.5 214.6 L73.7 214.5 L74.0 214.3 L74.2 214.2 L74.5 214.0 L74.7 213.9 L75.0 213.7 L75.0 213.7 L76.5 212.9 L78.0 212.1 L79.5 211.3 L81.0 210.6 L82.5 209.9 L84.0 209.2 L85.5 208.5 L87.0 207.8 L88.5 207.2 L90.0 206.5 L91.5 205.9 L93.0 205.3 L94.5 204.7 L96.0 204.2 L97.5 203.6 L99.0 203.1 L100.5 202.5 L102.0 202.0 L103.5 201.5 L105.0 201.0 L106.5 200.5 L108.0 200.0 L109.5 199.6 L111.0 199.1 L112.5 198.6 L114.0 198.1 L115.5 197.7 L117.0 197.2 L118.5 196.7 L120.0 196.2 L121.5 195.7 L123.0 195.2 L124.5 194.8 L126.0 194.3 L127.5 193.8 L129.0 193.3 L130.5 192.9 L132.0 192.4 L133.5 191.9 L135.0 191.5 L136.5 191.0 L138.0 190.5 L139.5 190.1 L141.0 189.6 L142.5 189.2 L144.0 188.7 L145.5 188.3 L147.0 187.9 L148.5 187.5 L150.0 187.1 L151.5 186.7 L153.0 186.3 L154.5 185.9 L156.0 185.6 L157.5 185.2 L159.0 184.9 L160.5 184.5 L162.0 184.2 L163.5 183.9 L165.0 183.6 L166.5 183.3 L168.0 183.0 L169.5 182.7 L171.0 182.4 L172.5 182.1 L174.0 181.7 L175.5 181.4 L177.0 181.1 L178.5 180.8 L180.0 180.5 L181.5 180.2 L183.0 179.9 L184.5 179.6 L186.0 179.2 L187.5 178.9 L189.0 178.6 L190.5 178.3 L192.0 178.0 L193.5 177.7 L195.0 177.4 L196.5 177.1 L198.0 176.8 L199.5 176.5 L201.0 176.2 L202.5 176.0 L204.0 175.7 L205.5 175.4 L207.0 175.2 L208.5 174.9 L210.0 174.6 L211.5 174.4 L213.0 174.1 L214.5 173.9 L216.0 173.7 L217.5 173.4 L219.0 173.2 L220.5 173.0 L222.0 172.7 L223.5 172.5 L225.0 172.3 L226.5 172.0 L228.0 171.8 L229.5 171.6 L231.0 171.4 L232.5 171.1 L234.0 170.9 L235.5 170.7 L237.0 170.5 L238.5 170.3 L240.0 170.1 L241.5 169.9 L243.0 169.7 L244.5 169.5 L246.0 169.3 L247.5 169.2 L249.0 169.0 L250.5 168.8 L252.0 168.6 L253.5 168.4 L255.0 168.2 L256.5 168.0 L258.0 167.8 L259.5 167.7 L261.0 167.5 L262.5 167.3 L264.0 167.2 L265.5 167.0 L267.0 166.8 L268.5 166.7 L270.0 166.5 L271.5 166.4 L273.0 166.2 L274.5 166.1 L276.0 165.9 L277.5 165.8 L279.0 165.6 L280.5 165.4 L282.0 165.3 L283.5 165.1 L285.0 165.0 L286.5 164.8 L288.0 164.6 L289.5 164.5 L291.0 164.3 L292.5 164.2 L294.0 164.1 L295.5 163.9 L297.0 163.8 L298.5 163.6 L300.0 163.5 L301.5 163.3 L303.0 163.2 L304.5 163.0 L306.0 162.8 L307.5 162.7 L309.0 162.5 L310.5 162.3 L312.0 162.1 L313.5 161.9 L315.0 161.7 L316.5 161.5 L318.0 161.2 L319.5 161.0 L321.0 160.8 L322.5 160.7 L324.0 160.5 L325.5 160.4 L327.0 160.2 L328.5 160.1 L330.0 159.9 L331.5 159.8 L333.0 159.7 L334.5 159.6 L336.0 159.5 L337.5 159.4 L339.0 159.3 L340.5 159.1 L342.0 159.0 L343.5 158.9 L345.0 158.8 L346.5 158.7 L348.0 158.6 L349.5 158.5 L351.0 158.4 L352.5 158.3 L354.0 158.2 L355.5 158.2 L357.0 158.1 L358.5 158.0 L360.0 158.0 L361.5 157.9 L363.0 157.8 L364.5 157.8 L366.0 157.7 L367.5 157.6 L369.0 157.5 L370.5 157.4 L372.0 157.3 L373.5 157.2 L375.0 157.1 L376.5 157.0 L378.0 156.9 L379.5 156.8 L381.0 156.8 L382.5 156.7 L384.0 156.6 L385.5 156.5 L387.0 156.4 L388.5 156.3 L390.0 156.3 L391.5 156.2 L393.0 156.1 L394.5 156.0 L396.0 156.0 L397.5 155.9 L399.0 155.8 L400.5 155.7 L402.0 155.7 L403.5 155.6 L405.0 155.6 L406.5 155.5 L408.0 155.4 L409.5 155.4 L411.0 155.3 L412.5 155.2 L414.0 155.2 L415.5 155.1 L417.0 155.0 L418.5 154.9 L420.0 154.8 L421.5 154.8 L423.0 154.7 L424.5 154.6 L426.0 154.5 L427.5 154.4 L429.0 154.4 L430.5 154.3 L432.0 154.2 L433.5 154.1 L435.0 154.0 L436.5 153.9 L438.0 153.9 L439.5 153.8 L441.0 153.7 L442.5 153.6 L444.0 153.5 L445.5 153.5 L447.0 153.4 L448.5 153.3 L450.0 153.3 L451.5 153.2 L453.0 153.2 L454.5 153.1 L456.0 153.0 L457.5 153.0 L459.0 153.0 L460.5 152.9 L462.0 152.9 L463.5 152.9 L465.0 152.9 L466.5 152.9 L468.0 153.0 L469.5 153.1 L471.0 153.2 L472.5 153.2 L474.0 153.2 L475.5 153.2 L477.0 153.2 L478.5 153.1 L480.0 153.1 L481.5 153.1 L483.0 153.1 L484.5 153.0 L486.0 153.0 L487.5 153.0 L489.0 152.9 L490.5 152.9 L492.0 152.9 L493.5 152.8 L495.0 152.8 L496.5 152.8 L497.2 152.8" fill="none" stroke="#bebebe" stroke-width="1.7" stroke-linejoin="round" stroke-dasharray="5.4 4.5"/>
<path d="M67.2 222.2 L67.5 221.2 L67.7 220.4 L68.0 219.7 L68.2 219.0 L68.5 218.5 L68.7 218.0 L69.0 217.5 L69.2 217.1 L69.5 216.8 L69.7 216.5 L70.0 216.2 L70.2 215.9 L70.5 215.7 L70.7 215.5 L71.0 215.3 L71.2 215.1 L71.5 214.9 L71.7 214.7 L72.0 214.6 L72.2 214.4 L72.5 214.2 L72.7 214.1 L73.0 213.9 L73.2 213.8 L73.5 213.7 L73.7 213.5 L74.0 213.4 L74.2 213.3 L74.5 213.1 L74.7 213.0 L75.0 212.9 L75.0 212.9 L76.5 212.1 L78.0 211.4 L79.5 210.8 L81.0 210.1 L82.5 209.4 L84.0 208.8 L85.5 208.1 L87.0 207.5 L88.5 206.9 L90.0 206.2 L91.5 205.6 L93.0 205.0 L94.5 204.4 L96.0 203.8 L97.5 203.1 L99.0 202.5 L100.5 202.0 L102.0 201.4 L103.5 200.8 L105.0 200.2 L106.5 199.6 L108.0 199.1 L109.5 198.5 L111.0 198.0 L112.5 197.5 L114.0 196.9 L115.5 196.4 L117.0 195.9 L118.5 195.4 L120.0 194.9 L121.5 194.4 L123.0 193.9 L124.5 193.5 L126.0 193.0 L127.5 192.6 L129.0 192.1 L130.5 191.7 L132.0 191.3 L133.5 190.8 L135.0 190.4 L136.5 189.9 L138.0 189.5 L139.5 189.0 L141.0 188.6 L142.5 188.1 L144.0 187.7 L145.5 187.2 L147.0 186.8 L148.5 186.3 L150.0 185.9 L151.5 185.5 L153.0 185.1 L154.5 184.7 L156.0 184.3 L157.5 183.9 L159.0 183.6 L160.5 183.2 L162.0 182.9 L163.5 182.6 L165.0 182.3 L166.5 182.0 L168.0 181.7 L169.5 181.4 L171.0 181.1 L172.5 180.8 L174.0 180.5 L175.5 180.1 L177.0 179.8 L178.5 179.5 L180.0 179.2 L181.5 178.8 L183.0 178.5 L184.5 178.2 L186.0 177.8 L187.5 177.5 L189.0 177.2 L190.5 176.8 L192.0 176.5 L193.5 176.2 L195.0 175.9 L196.5 175.6 L198.0 175.3 L199.5 175.0 L201.0 174.8 L202.5 174.5 L204.0 174.3 L205.5 174.0 L207.0 173.8 L208.5 173.5 L210.0 173.3 L211.5 173.0 L213.0 172.8 L214.5 172.5 L216.0 172.3 L217.5 172.0 L219.0 171.8 L220.5 171.5 L222.0 171.3 L223.5 171.0 L225.0 170.7 L226.5 170.5 L228.0 170.2 L229.5 170.0 L231.0 169.7 L232.5 169.5 L234.0 169.2 L235.5 169.0 L237.0 168.8 L238.5 168.5 L240.0 168.3 L241.5 168.1 L243.0 167.9 L244.5 167.7 L246.0 167.5 L247.5 167.4 L249.0 167.2 L250.5 167.0 L252.0 166.9 L253.5 166.7 L255.0 166.5 L256.5 166.4 L258.0 166.2 L259.5 166.1 L261.0 165.9 L262.5 165.8 L264.0 165.6 L265.5 165.5 L267.0 165.4 L268.5 165.2 L270.0 165.1 L271.5 164.9 L273.0 164.8 L274.5 164.6 L276.0 164.5 L277.5 164.3 L279.0 164.2 L280.5 164.0 L282.0 163.9 L283.5 163.7 L285.0 163.6 L286.5 163.4 L288.0 163.3 L289.5 163.1 L291.0 163.0 L292.5 162.8 L294.0 162.7 L295.5 162.6 L297.0 162.4 L298.5 162.3 L300.0 162.1 L301.5 162.0 L303.0 161.8 L304.5 161.7 L306.0 161.5 L307.5 161.4 L309.0 161.2 L310.5 161.0 L312.0 160.8 L313.5 160.7 L315.0 160.5 L316.5 160.3 L318.0 160.1 L319.5 159.9 L321.0 159.6 L322.5 159.4 L324.0 159.2 L325.5 159.0 L327.0 158.8 L328.5 158.7 L330.0 158.5 L331.5 158.3 L333.0 158.2 L334.5 158.0 L336.0 157.9 L337.5 157.8 L339.0 157.6 L340.5 157.5 L342.0 157.5 L343.5 157.4 L345.0 157.3 L346.5 157.2 L348.0 157.1 L349.5 157.1 L351.0 157.0 L352.5 156.9 L354.0 156.8 L355.5 156.6 L357.0 156.5 L358.5 156.4 L360.0 156.2 L361.5 156.1 L363.0 155.9 L364.5 155.8 L366.0 155.6 L367.5 155.5 L369.0 155.3 L370.5 155.2 L372.0 155.0 L373.5 154.9 L375.0 154.7 L376.5 154.6 L378.0 154.4 L379.5 154.3 L381.0 154.1 L382.5 154.0 L384.0 153.9 L385.5 153.8 L387.0 153.6 L388.5 153.5 L390.0 153.4 L391.5 153.3 L393.0 153.2 L394.5 153.1 L396.0 153.0 L397.5 152.9 L399.0 152.8 L400.5 152.7 L402.0 152.6 L403.5 152.4 L405.0 152.3 L406.5 152.2 L408.0 152.1 L409.5 152.0 L411.0 151.9 L412.5 151.8 L414.0 151.7 L415.5 151.6 L417.0 151.5 L418.5 151.4 L420.0 151.3 L421.5 151.2 L423.0 151.1 L424.5 151.1 L426.0 151.0 L427.5 150.9 L429.0 150.8 L430.5 150.7 L432.0 150.6 L433.5 150.6 L435.0 150.5 L436.5 150.4 L438.0 150.3 L439.5 150.2 L441.0 150.1 L442.5 150.0 L444.0 149.9 L445.5 149.9 L447.0 149.8 L448.5 149.7 L450.0 149.6 L451.5 149.6 L453.0 149.5 L454.5 149.5 L456.0 149.6 L457.5 149.7 L459.0 149.8 L460.5 149.9 L462.0 150.1 L463.5 150.1 L465.0 150.1 L466.5 150.1 L468.0 150.0 L469.5 150.0 L471.0 149.9 L472.5 149.8 L474.0 149.7 L475.5 149.6 L477.0 149.5 L478.5 149.5 L479.0 149.3 L479.0 146.4 L497.2 146.0" fill="none" stroke="#000000" stroke-width="1.7" stroke-linejoin="round" stroke-dasharray="1.5 3.4"/>
<line x1="75.3" y1="21.9" x2="92.8" y2="21.9" stroke="#000000" stroke-width="1.45"/>
<text transform="translate(100.60 27.20) scale(1 1.07)" textLength="66.27" lengthAdjust="spacing">MDS/CV Good</text>
<line x1="75.3" y1="33.9" x2="92.8" y2="33.9" stroke="#8a1528" stroke-width="1.45" stroke-dasharray="5.4 4.5"/>
<text transform="translate(100.60 39.20) scale(1 1.07)" textLength="51.16" lengthAdjust="spacing">MDS/CV Int</text>
<line x1="75.3" y1="45.9" x2="92.8" y2="45.9" stroke="#62ad7c" stroke-width="1.45" stroke-dasharray="1.5 3.4"/>
<text transform="translate(100.60 51.20) scale(1 1.07)" textLength="62.97" lengthAdjust="spacing">MDS/CV Poor</text>
<line x1="75.3" y1="57.9" x2="92.8" y2="57.9" stroke="#22266e" stroke-width="1.45" stroke-dasharray="1.8 3.2 5.4 3.2"/>
<text transform="translate(100.60 63.20) scale(1 1.07)" textLength="65.87" lengthAdjust="spacing">CAD/CV Good</text>
<line x1="75.3" y1="69.9" x2="92.8" y2="69.9" stroke="#5cd6d0" stroke-width="1.45" stroke-dasharray="9.0 3.6"/>
<text transform="translate(100.60 75.20) scale(1 1.07)" textLength="49.46" lengthAdjust="spacing">CAD/CV Int</text>
<line x1="75.3" y1="81.9" x2="92.8" y2="81.9" stroke="#b044b8" stroke-width="1.45" stroke-dasharray="2.9 2.4 7.4 2.2"/>
<text transform="translate(100.60 87.20) scale(1 1.07)" textLength="61.97" lengthAdjust="spacing">CAD/CV Poor</text>
<line x1="75.3" y1="93.9" x2="92.8" y2="93.9" stroke="#eeee6a" stroke-width="1.45"/>
<text transform="translate(100.60 99.20) scale(1 1.07)" textLength="68.53" lengthAdjust="spacing">Other/CV Good</text>
<line x1="75.3" y1="105.9" x2="92.8" y2="105.9" stroke="#bebebe" stroke-width="1.45" stroke-dasharray="5.4 4.5"/>
<text transform="translate(100.60 111.20) scale(1 1.07)" textLength="51.92" lengthAdjust="spacing">Other/CV Int</text>
<line x1="75.3" y1="117.9" x2="92.8" y2="117.9" stroke="#000000" stroke-width="1.45" stroke-dasharray="1.5 3.4"/>
<text transform="translate(100.60 123.20) scale(1 1.07)" textLength="63.63" lengthAdjust="spacing">Other/CV Poor</text>
</g>
</svg>
</body></html>
